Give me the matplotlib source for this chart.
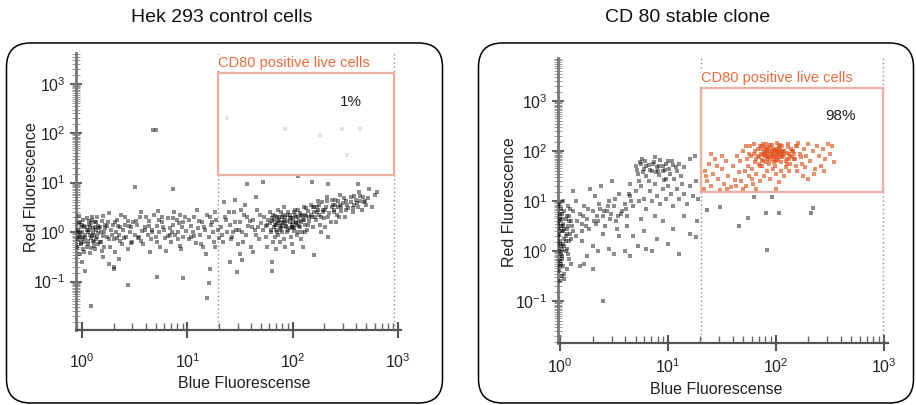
import numpy as np
import matplotlib
matplotlib.use("Agg")
import matplotlib.pyplot as plt
from matplotlib.patches import FancyBboxPatch, Rectangle
from matplotlib.ticker import LogLocator, NullFormatter

plt.rcParams['font.family'] = ['Liberation Sans Narrow', 'Liberation Sans', 'DejaVu Sans']
plt.rcParams['mathtext.fontset'] = 'custom'
plt.rcParams['mathtext.rm'] = 'Liberation Sans'
plt.rcParams['mathtext.it'] = 'Liberation Sans'
plt.rcParams['mathtext.default'] = 'regular'

titles = ["Hek 293 control cells", "CD 80 stable clone"]
gate_label = "CD80 positive live cells"
gate_pct = ["1%", "98%"]
x_label = "Blue Fluorescense"
y_label = "Red Fluorescence"

# log10 of blue / red fluorescence per event, Hek 293 control cells
hek_log_blue = [
    -0.04, -0.03, -0.02, -0.01, 0.0, 0.01, 0.02, 0.03, 0.04, 0.05, 0.06, 0.07, 0.08, 0.09, 0.1, 0.11, 0.12, 0.13, 0.14, 0.15,
    -0.03, -0.02, 0.0, 0.02, 0.04, 0.06, 0.08, 0.1, 0.12, 0.03, 0.05, 0.07, 0.09, 0.11, -0.04, -0.01, 0.01, 0.13, 0.15, 0.0,
    0.17, 0.18, 0.2, 0.21, 0.23, 0.24, 0.26, 0.27, 0.29, 0.3, 0.32, 0.33, 0.35, 0.36, 0.38, 0.39, 0.41, 0.42, 0.44, 0.45,
    0.47, 0.48, 0.5, 0.19, 0.25, 0.31, 0.37, 0.43, 0.22, 0.28, 0.34, 0.4, 0.46, 0.2, 0.3, 0.35, 0.25,
    0.52, 0.54, 0.55, 0.57, 0.58, 0.6, 0.62, 0.63, 0.65, 0.66, 0.68, 0.7, 0.71, 0.73, 0.74, 0.76, 0.78, 0.79, 0.81, 0.83,
    0.84, 0.86, 0.88, 0.9, 0.91, 0.93, 0.95, 0.96, 0.98, 0.99, 0.56, 0.64, 0.72, 0.8, 0.87, 0.94, 0.6, 0.77, 0.85, 0.92,
    1.01, 1.03, 1.05, 1.06, 1.08, 1.1, 1.12, 1.14, 1.15, 1.17, 1.19, 1.2, 1.22, 1.24, 1.25, 1.27, 1.29, 1.3, 1.09, 1.18, 1.26,
    0.5, 0.86, 0.67, 0.7, 0.43, 0.71, 0.96, 1.2, 1.19, 0.08, 0.03, 0.3, 1.21, 1.47, 1.8, 1.8, 2.2, 1.4, 1.52,
    2.05, 1.57, 1.72, 2.18, 2.34, 2.62, 2.73, 2.8, 2.78,
    1.38, 1.93, 2.47, 2.64, 2.26, 2.52,
    1.32, 1.34, 1.36, 1.38, 1.4, 1.42, 1.44, 1.46, 1.48, 1.5, 1.52, 1.54, 1.56, 1.58, 1.6, 1.62, 1.64, 1.66, 1.68, 1.7,
    1.35, 1.45, 1.55, 1.65, 1.5, 1.62,
    1.72, 1.73, 1.75, 1.76, 1.78, 1.79, 1.8, 1.81, 1.82, 1.83, 1.84, 1.85, 1.86, 1.87, 1.88, 1.89, 1.9, 1.91, 1.92, 1.93,
    1.94, 1.95, 1.96, 1.97, 1.98, 1.99, 2.0, 2.01, 2.02, 2.03, 2.04, 2.05, 2.06, 2.07, 2.08, 2.09, 2.1, 2.11, 2.12, 2.13,
    2.14, 2.15, 2.16, 2.17, 2.18, 2.19, 2.2,
    1.85, 1.9, 1.95, 2.0, 1.88, 1.93, 1.97, 2.03, 1.82, 1.78, 2.08, 1.99, 2.05, 1.86, 1.92, 2.12, 1.76, 1.84, 2.0, 2.1,
    2.22, 2.23, 2.25, 2.26, 2.28, 2.29, 2.3, 2.32, 2.33, 2.35, 2.36, 2.38, 2.39, 2.4, 2.42, 2.43, 2.45, 2.46, 2.48, 2.5,
    2.51, 2.53, 2.55, 2.57, 2.58, 2.6, 2.62, 2.64, 2.66, 2.68, 2.7, 2.72, 2.75, 2.27, 2.34, 2.31, 2.41, 2.24, 2.37, 2.44,
    -0.05, -0.03, -0.02, 0.0, 0.01, 0.02, 0.04, 0.05, 0.06, 0.08, 0.09, 0.11, 0.12, 0.14, 0.16, 0.17, 0.19, 0.21, 0.23, 0.25,
    -0.04, -0.01, 0.03, 0.07, 0.1, 0.13, 0.15, 0.18, 0.2, 0.22,
    0.31, 0.36, 0.41, 0.46, 0.51, 0.56, 0.61, 0.66, 0.71, 0.76, 0.81, 0.86, 0.91, 0.96, 1.01, 1.06, 1.11, 1.16, 1.21, 1.26,
    0.33, 0.43, 0.53, 0.63, 0.73, 0.83, 0.93, 1.03, 1.13, 1.23,
    1.75, 1.77, 1.79, 1.81, 1.83, 1.85, 1.87, 1.89, 1.91, 1.93, 1.95, 1.97, 1.99, 2.01, 2.03, 2.05, 2.07, 2.09, 2.11, 2.13,
    2.15, 2.17, 2.19, 2.21, 2.23, 2.25, 2.27, 2.29, 1.8, 1.84, 1.88, 1.92, 1.96, 2.0, 2.04, 2.08, 2.12, 2.16, 2.2, 2.24,
    1.86, 1.9, 1.94, 1.98, 2.02, 2.06, 1.83, 1.97, 2.01, 1.89,
    1.33, 1.37, 1.41, 1.45, 1.49, 1.53, 1.57, 1.61, 1.65, 1.69, 1.43, 1.51, 1.59, 1.67, 1.39,
    2.31, 2.34, 2.37, 2.4, 2.43, 2.46, 2.49, 2.52, 2.55, 2.58, 2.61, 2.64, 2.67, 2.33, 2.39, 2.45, 2.51, 2.57, 2.63, 2.69,
]
hek_log_red = [
    0.05, -0.1, 0.2, -0.25, 0.0, -0.35, 0.12, -0.05, 0.28, -0.18, 0.05, -0.42, 0.18, -0.08, 0.0, -0.28, 0.1, -0.15, 0.3, -0.02,
    0.32, -0.45, 0.15, -0.2, -0.3, 0.22, -0.12, 0.08, -0.35, 0.1, 0.0, -0.05, 0.25, -0.2, -0.15, 0.1, -0.1, 0.05, -0.25, -0.6,
    0.1, -0.2, 0.32, 0.0, -0.1, 0.2, -0.3, 0.05, 0.15, -0.15, 0.0, 0.25, -0.05, 0.1, -0.25, 0.05, 0.3, -0.1, 0.12, 0.0,
    -0.2, 0.2, -0.05, -0.38, 0.38, -0.4, 0.35, -0.35, 0.08, -0.05, 0.12, -0.12, 0.1, -0.5, -0.7, -0.55, -0.65,
    0.15, -0.1, 0.3, 0.02, -0.25, 0.1, -0.05, 0.22, -0.15, 0.05, 0.35, -0.1, 0.12, 0.0, -0.3, 0.2, 0.05, -0.12, 0.28, 0.08,
    -0.2, 0.15, -0.05, 0.25, 0.0, -0.28, 0.1, -0.1, 0.3, 0.02, 0.4, -0.4, 0.42, -0.38, 0.4, -0.35, 0.05, 0.1, 0.0, 0.18,
    -0.15, 0.12, 0.0, 0.3, -0.22, 0.08, -0.05, 0.2, -0.3, 0.05, 0.35, -0.1, 0.15, 0.0, -0.2, 0.25, 0.05, -0.12, 0.45, -0.45, 0.4,
    0.91, 0.87, 2.06, 2.06, -1.07, -0.9, -0.93, -1.03, -1.33, -1.5, -0.79, -0.75, -0.75, -0.8, -0.78, -0.6, -0.46, -0.6, -0.57,
    1.13, 0.97, 1.01, 1.01, 0.97, 0.97, 0.87, 0.81, 0.75,
    2.3, 2.08, 2.08, 2.08, 1.96, 1.56,
    0.1, -0.2, 0.3, 0.0, 0.15, -0.1, 0.4, 0.05, -0.25, 0.2, 0.0, 0.35, -0.05, 0.12, -0.3, 0.25, 0.05, 0.45, -0.15, 0.18,
    0.6, 0.65, 0.55, 0.7, -0.45, -0.4,
    0.05, 0.3, -0.1, 0.15, 0.4, 0.0, 0.22, -0.2, 0.1, 0.32, 0.05, 0.18, -0.05, 0.25, 0.12, 0.4, 0.0, 0.2, -0.15, 0.3,
    0.1, 0.22, 0.05, 0.35, -0.1, 0.15, 0.28, 0.08, 0.45, 0.18, -0.05, 0.3, 0.12, 0.38, 0.2, 0.0, 0.25, 0.5, 0.15, 0.32,
    0.05, 0.42, 0.22, 0.55, 0.3, 0.1, 0.4,
    0.3, 0.12, 0.35, 0.1, -0.2, -0.3, 0.2, 0.3, 0.25, 0.18, -0.15, -0.25, 0.0, 0.45, 0.5, 0.35, -0.3, -0.35, -0.4, -0.3,
    0.25, 0.5, 0.35, 0.15, 0.6, 0.4, 0.28, 0.5, 0.7, 0.38, 0.2, 0.55, 0.45, 0.65, 0.35, 0.5, 0.75, 0.42, 0.58, 0.3,
    0.62, 0.48, 0.7, 0.4, 0.55, 0.65, 0.5, 0.72, 0.45, 0.6, 0.55, 0.68, 0.5, 0.0, -0.1, 0.1, 0.2, 0.45, 0.65, 0.3,
    -0.3, 0.18, -0.05, -0.15, 0.25, -0.4, 0.05, -0.25, 0.15, -0.32, 0.3, -0.05, 0.2, -0.1, 0.08, -0.2, 0.22, -0.3, 0.12, -0.15,
    0.0, -0.22, -0.12, 0.1, -0.18, 0.2, 0.12, 0.0, -0.08, 0.15,
    0.2, -0.18, 0.15, -0.22, 0.22, -0.18, 0.3, 0.0, -0.2, 0.3, -0.08, 0.28, -0.15, 0.2, 0.25, -0.08, 0.22, 0.1, 0.3, -0.3,
    -0.12, 0.22, -0.12, 0.12, 0.25, -0.05, 0.35, -0.1, -0.25, 0.2,
    0.12, 0.25, 0.05, 0.35, 0.15, 0.0, 0.3, 0.08, 0.35, 0.18, 0.0, 0.28, 0.1, 0.4, 0.2, 0.45, 0.1, 0.32, 0.25, 0.48,
    0.15, 0.35, 0.5, 0.3, 0.4, 0.55, 0.3, 0.45, 0.28, 0.15, 0.05, 0.25, 0.4, 0.2, 0.15, 0.35, 0.0, 0.3, 0.5, 0.62,
    0.22, 0.3, 0.12, 0.28, 0.35, 0.22, -0.1, 0.08, 0.02, 0.18,
    -0.05, 0.25, -0.15, 0.2, 0.05, -0.2, 0.3, 0.1, -0.05, 0.35, 0.0, 0.45, 0.22, 0.1, 0.4,
    0.45, 0.3, 0.5, 0.55, 0.62, 0.5, 0.68, 0.55, 0.6, 0.72, 0.58, 0.62, 0.7, 0.62, 0.4, 0.55, 0.45, 0.48, 0.8, 0.62,
]

# log10 of blue / red fluorescence per event, CD80 stable clone
cd80_log_blue = [
    -0.02, 0.0, -0.01, 0.01, 0.02, -0.02, 0.0, 0.03, 0.01, -0.01, 0.02, 0.0, 0.03, -0.01, 0.02, 0.05, 0.06, 0.04, 0.07, 0.05,
    0.08, 0.06, 0.04, 0.08, 0.1, 0.03, 0.09, 0.1, 0.12, 0.0, 0.02, -0.01, 0.04, 0.06, 0.01,
    0.15, 0.18, 0.2, 0.22, 0.25, 0.27, 0.3, 0.32, 0.35, 0.37, 0.4, 0.42, 0.45, 0.47, 0.5, 0.52, 0.55, 0.57, 0.6, 0.62,
    0.15, 0.2, 0.25, 0.3, 0.35, 0.4, 0.45, 0.5, 0.55, 0.6, 0.18, 0.22, 0.3, 0.4, 0.12, 0.28, 0.38, 0.65, 0.48, 0.2,
    0.33, 0.43, 0.53, 0.16,
    0.7, 0.72, 0.75, 0.78, 0.8, 0.82, 0.85, 0.87, 0.9, 0.92, 0.95, 0.97, 1.0, 1.02, 1.05, 1.08, 1.1, 0.76, 0.88, 0.98,
    1.12, 0.73, 0.93, 1.15, 1.2, 1.25,
    0.65, 0.68, 0.7, 0.73, 0.75, 0.78, 0.8, 0.83, 0.85, 0.88, 0.9, 0.93, 0.95, 0.98, 1.0, 1.03, 1.05, 1.08, 1.1, 1.13,
    1.15, 1.18, 1.2, 1.23, 1.26, 1.28, 0.82, 0.96, 1.06,
    0.62, 0.68, 0.72, 0.78, 0.85, 0.9, 0.95, 1.0, 1.05, 1.1, 1.2, 1.27, 0.75, 0.88, 1.15, 0.65, 0.8,
    1.36, 1.66, 1.91, 2.03, 2.34, 2.33, 1.92, 1.26, 1.8, 1.96, 1.74, 1.48,
    1.33, 1.34, 1.36, 1.38, 1.4, 1.42, 1.44, 1.46, 1.48, 1.5, 1.52, 1.54, 1.56, 1.58, 1.6, 1.62, 1.64, 1.66, 1.35, 1.45,
    1.55, 1.63, 1.5, 1.4,
    1.67, 1.68, 1.7, 1.71, 1.72, 1.73, 1.74, 1.75, 1.76, 1.77, 1.78, 1.79, 1.8, 1.81, 1.82, 1.83, 1.84, 1.85, 1.7, 1.78,
    1.82, 1.75, 1.8, 1.72,
    1.86, 1.87, 1.88, 1.89, 1.9, 1.91, 1.92, 1.93, 1.94, 1.95, 1.96, 1.97, 1.98, 1.99, 2.0, 2.01, 2.02, 2.03, 2.04, 2.05,
    2.06, 2.07, 2.08, 2.09, 2.1, 2.11, 2.12, 2.13, 2.14, 2.15,
    1.88, 1.9, 1.92, 1.94, 1.96, 1.98, 2.0, 2.02, 2.04, 1.93, 1.97, 2.01, 1.95, 1.99, 2.03, 1.91, 2.06, 1.87, 2.1, 1.97,
    2.05, 1.92, 2.0, 1.89, 2.08, 2.12, 1.95, 1.85, 2.03, 2.0,
    2.16, 2.18, 2.2, 2.22, 2.24, 2.26, 2.28, 2.3, 2.32, 2.34, 2.36, 2.38, 2.4, 2.42, 2.44, 2.46, 2.48, 2.5, 2.52, 2.54,
    2.2, 2.25, 2.3, 2.35, 2.45, 2.19, 2.27, 2.21, 2.17, 2.23,
    -0.03, -0.01, 0.0, 0.01, 0.02, 0.03, 0.04, 0.05, 0.06, 0.07, -0.02, 0.0, 0.02, 0.04, 0.06, 0.08, 0.1, 0.12, 0.01, 0.03,
    0.05, 0.07, 0.09, -0.01, 0.0, 0.02, 0.04, 0.11, 0.08, 0.03,
    1.81, 1.83, 1.85, 1.87, 1.89, 1.91, 1.93, 1.95, 1.97, 1.99, 2.01, 2.03, 2.05, 2.07, 2.09, 2.11, 2.13, 2.15, 2.17, 2.19,
    1.84, 1.88, 1.92, 1.96, 2.0, 2.04, 2.08, 2.12, 1.86, 1.9, 1.94, 1.98, 2.02, 2.06, 2.1, 1.82, 1.96, 2.0, 1.92, 2.04,
    0.71, 0.74, 0.77, 0.8, 0.83, 0.86, 0.89, 0.92, 0.95, 0.98, 1.01, 1.04, 1.07, 0.79, 0.91,
    0.21, 0.26, 0.31, 0.36, 0.41, 0.46, 0.51, 0.56, 0.61, 0.66, 0.24, 0.34, 0.44, 0.54, 0.64,
]
cd80_log_red = [
    0.9, 0.75, 0.6, 0.5, 0.4, 0.3, 0.2, 0.55, 0.1, 0.0, -0.1, -0.2, -0.3, -0.4, -0.5, 0.65, 0.35, 0.8, 0.5, 0.0,
    -0.15, -0.35, 0.45, 0.2, 0.6, 1.0, 0.85, -0.25, 0.4, -0.6, 0.65, 0.45, 0.25, 0.7, -0.05,
    1.0, 0.75, 0.55, 0.9, 0.65, 0.45, 0.8, 1.1, 0.6, 0.85, 0.7, 0.5, 1.0, 0.75, 0.9, 0.6, 1.15, 0.8, 0.95, 0.7,
    0.3, 0.2, -0.1, 0.1, 0.0, 0.35, 0.05, -0.05, 0.3, 0.0, -0.3, -0.25, -0.35, -1.0, 1.2, 1.25, 1.3, 1.35, 1.4, 0.4,
    0.55, 0.8, 0.45, 0.6,
    1.7, 1.55, 1.75, 1.65, 1.5, 1.72, 1.6, 1.78, 1.68, 1.52, 1.7, 1.62, 1.8, 1.55, 1.72, 1.6, 1.75, 1.85, 1.88, 1.45,
    1.5, 1.4, 1.82, 1.68, 1.85, 1.9,
    1.1, 0.9, 1.2, 1.0, 1.3, 1.05, 0.85, 1.2, 1.0, 1.35, 1.1, 0.95, 1.25, 1.05, 1.3, 1.15, 0.9, 1.25, 1.05, 1.35,
    1.15, 0.95, 1.3, 1.1, 1.4, 1.05, 1.4, 1.42, 1.45,
    0.5, 0.3, 0.1, 0.4, 0.0, 0.25, 0.6, 0.15, 0.45, -0.05, 0.35, 0.6, 0.65, 0.7, 0.7, -0.1, 0.05,
    0.82, 0.5, 0.76, 0.76, 0.86, 0.76, 0.02, 0.28, 1.08, 1.08, 0.66, 0.88,
    1.25, 1.6, 1.4, 1.75, 1.3, 1.55, 1.85, 1.45, 1.22, 1.65, 1.35, 1.8, 1.5, 1.28, 1.7, 1.42, 1.9, 1.58, 1.5, 1.7,
    1.25, 1.3, 1.9, 1.95,
    1.8, 1.4, 2.0, 1.6, 1.3, 1.85, 1.7, 1.5, 2.1, 1.9, 1.65, 1.35, 1.95, 1.78, 1.55, 2.05, 1.88, 1.7, 1.25, 1.45,
    1.25, 1.95, 2.15, 2.1,
    1.95, 2.1, 1.8, 2.0, 1.9, 2.15, 1.85, 2.05, 1.75, 1.98, 2.12, 1.88, 2.02, 1.7, 1.92, 2.16, 1.82, 2.06, 1.95, 1.78,
    2.1, 1.9, 2.0, 1.68, 1.85, 2.14, 1.95, 1.75, 2.05, 1.88,
    1.92, 2.08, 1.98, 1.88, 1.95, 1.85, 2.05, 1.95, 1.88, 1.95, 2.05, 1.9, 1.82, 1.98, 1.98, 1.78, 1.98, 1.7, 1.97, 1.65,
    1.6, 1.6, 1.55, 1.5, 1.5, 1.6, 1.45, 1.4, 1.38, 1.25,
    2.0, 1.85, 2.1, 1.95, 1.75, 2.05, 1.9, 2.15, 1.8, 2.0, 1.65, 2.1, 1.9, 1.7, 2.05, 1.85, 2.15, 1.95, 2.1, 1.78,
    1.6, 1.5, 1.45, 1.55, 1.6, 1.7, 1.68, 2.16, 1.95, 1.88,
    0.7, 0.35, 0.15, 0.85, -0.15, 0.5, -0.45, 0.3, 0.05, 0.9, 0.55, -0.3, 0.75, 0.1, 0.45, 0.6, 0.25, 0.8, -0.25, 0.4,
    0.2, -0.05, 0.35, 0.95, 0.65, 0.05, -0.55, 0.5, 0.7, 0.15,
    2.0, 1.9, 2.1, 1.82, 1.95, 2.05, 1.88, 2.12, 1.92, 2.02, 1.85, 2.1, 1.92, 2.0, 1.8, 2.08, 1.9, 2.0, 1.85, 2.1,
    1.75, 2.15, 2.02, 1.9, 1.8, 2.12, 1.95, 1.85, 2.04, 1.96, 2.08, 1.78, 2.0, 1.88, 1.75, 1.85, 2.0, 1.98, 1.9, 2.02,
    1.62, 1.78, 1.58, 1.7, 1.62, 1.75, 1.58, 1.7, 1.6, 1.75, 1.65, 1.8, 1.68, 1.8, 1.6,
    0.7, 0.85, 0.6, 0.95, 0.8, 0.65, 1.05, 0.75, 0.85, 1.0, 0.5, 0.7, 0.9, 0.7, 1.15,
]

# gate bounds (blue_min, blue_max, red_min, red_max) and axis limits in log10 units
gates = [(1.29, 2.96, 1.16, 3.22), (1.31, 2.99, 1.18, 3.26)]
xlims = [(-0.06, 3.03), (-0.02, 3.04)]
ylims = [(-1.98, 3.62), (-1.84, 3.86)]
pct_pos = [(2.55, 2.63), (2.6, 2.7)]

W, H = 916, 405
fig = plt.figure(figsize=(W / 100, H / 100), dpi=100)

# background layer in pixel units for the rounded frames, titles and axis labels
bg = fig.add_axes([0, 0, 1, 1], zorder=-1)
bg.set_xlim(0, W)
bg.set_ylim(H, 0)
bg.axis('off')
frames = [(6, 43, 437, 360), (478, 43, 436, 360)]
for (fx, fy, fw, fh), title, cx in zip(frames, titles, [222, 688]):
    bg.add_patch(FancyBboxPatch((fx + 0.5, fy), fw - 1, fh, boxstyle="round,pad=0,rounding_size=24",
                                fc='white', ec='black', lw=1.1))
    bg.text(cx, 18, title, ha='center', va='center', fontsize=14, color='#111111')

axes_px = [(76, 53, 401, 330), (558, 58, 888, 343)]
xlab_pos = [(244, 384), (716, 389)]
ylab_pos = [(31, 187), (510, 202)]
xtick_pad = [10, 4]

datasets = [(hek_log_blue, hek_log_red), (cd80_log_blue, cd80_log_red)]

for i, (lb, lr) in enumerate(datasets):
    l, t, r, b = axes_px[i]
    ax = fig.add_axes([l / W, 1 - b / H, (r - l) / W, (b - t) / H])
    ax.set_facecolor('none')
    ax.set_xscale('log')
    ax.set_yscale('log')
    ax.set_xlim(10 ** xlims[i][0], 10 ** xlims[i][1])
    ax.set_ylim(10 ** ylims[i][0], 10 ** ylims[i][1])

    lb = np.array(lb)
    lr = np.array(lr)
    g = gates[i]
    inside = (lb >= g[0]) & (lb <= g[1]) & (lr >= g[2]) & (lr <= g[3])
    ax.scatter(10 ** lb[~inside], 10 ** lr[~inside], s=5.5, marker='s', c='black',
               alpha=0.45, linewidths=0, zorder=3)
    if i == 0:
        ax.scatter(10 ** lb[inside], 10 ** lr[inside], s=5, marker='s', c='#c9a8a0',
                   alpha=0.35, linewidths=0, zorder=3)
    else:
        ax.scatter(10 ** lb[inside], 10 ** lr[inside], s=5.5, marker='s', c='#e2531f',
                   alpha=0.65, linewidths=0, zorder=3)

    # gate: dotted guides over the full height plus the box
    for gx in (g[0], g[1]):
        ax.axvline(10 ** gx, color='#8a8a8a', lw=1.0, ls=(0, (1, 2)), zorder=2)
    ax.add_patch(Rectangle((10 ** g[0], 10 ** g[2]), 10 ** g[1] - 10 ** g[0], 10 ** g[3] - 10 ** g[2],
                           fill=False, ec='#eab1a0', lw=1.6, zorder=4))
    ax.text(10 ** g[0], 10 ** (g[3] + 0.06), gate_label, ha='left', va='bottom', fontsize=10.5,
            color='#ee6a3a', zorder=5, bbox=dict(fc='white', ec='none', pad=0.5))
    ax.text(10 ** pct_pos[i][0], 10 ** pct_pos[i][1], gate_pct[i], ha='center', va='center',
            fontsize=11, color='#222222', zorder=5)

    for s in ('top', 'right'):
        ax.spines[s].set_visible(False)
    ax.spines['bottom'].set_color('#555555')
    ax.spines['bottom'].set_linewidth(1.6)
    ax.spines['left'].set_color('#777777')
    ax.spines['left'].set_linewidth(2.0)

    ax.xaxis.set_major_locator(LogLocator(base=10, numticks=10))
    ax.xaxis.set_minor_locator(LogLocator(base=10, subs=np.arange(2, 10), numticks=10))
    ax.yaxis.set_major_locator(LogLocator(base=10, numticks=10))
    ax.yaxis.set_minor_locator(LogLocator(base=10, subs=np.arange(1.5, 10, 0.5), numticks=10))
    ax.xaxis.set_minor_formatter(NullFormatter())
    ax.yaxis.set_minor_formatter(NullFormatter())
    ax.tick_params(axis='x', which='major', direction='inout', length=12, width=1.5, color='#555555',
                   labelsize=11.5, pad=xtick_pad[i], labelcolor='#222222')
    ax.tick_params(axis='x', which='minor', direction='in', length=5, width=1.0, color='#666666')
    ax.tick_params(axis='y', which='major', direction='inout', length=9, width=1.5, color='#666666',
                   labelsize=11.5, pad=3, labelcolor='#222222')
    ax.tick_params(axis='y', which='minor', direction='inout', length=6, width=0.7, color='#999999')

    bg.text(xlab_pos[i][0], xlab_pos[i][1], x_label, ha='center', va='center', fontsize=11.5, color='#222222')
    bg.text(ylab_pos[i][0], ylab_pos[i][1], y_label, ha='center', va='center', rotation=90,
            fontsize=11.5, color='#222222')

fig.savefig("out.png", dpi=100)
